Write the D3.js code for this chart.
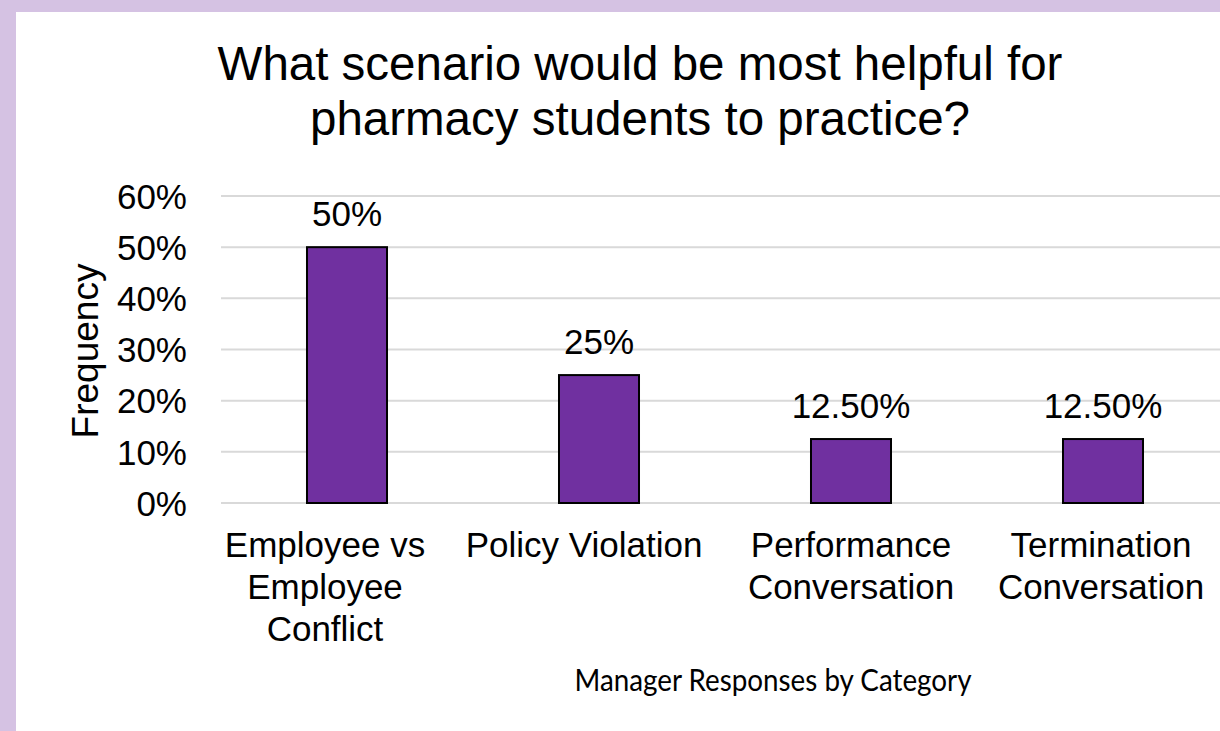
<!DOCTYPE html>
<html>
<head>
<meta charset="utf-8">
<script src="https://cdn.jsdelivr.net/npm/d3@7/dist/d3.min.js"></script>
<style>
  html, body { margin: 0; padding: 0; background: #ffffff; }
  svg { display: block; }
  text { font-family: "Liberation Sans", Arial, Helvetica, sans-serif; fill: #000; }
</style>
</head>
<body>
<svg id="chart" width="1220" height="731"></svg>
<script>
// ---- data ----
const categories = [
  ["Employee vs", "Employee", "Conflict"],
  ["Policy Violation"],
  ["Performance", "Conversation"],
  ["Termination", "Conversation"]
];
const values = [0.50, 0.25, 0.125, 0.125];
const valueLabels = ["50%", "25%", "12.50%", "12.50%"];
const yTicks = [0, 0.1, 0.2, 0.3, 0.4, 0.5, 0.6];
const titleLines = ["What scenario would be most helpful for", "pharmacy students to practice?"];
const yAxisTitle = "Frequency";
const xAxisTitle = "Manager Responses by Category";

// ---- layout ----
const W = 1220, H = 731;
const svg = d3.select("#chart");

svg.append("rect").attr("x", 0).attr("y", 0).attr("width", W).attr("height", H).attr("fill", "#d5c2e3");
svg.append("rect").attr("x", 16).attr("y", 12).attr("width", W - 16).attr("height", H - 12).attr("fill", "#ffffff");

const plot = { left: 221, right: 1229, top: 196, bottom: 503 };

const keys = categories.map((c, i) => i);
const x = d3.scaleBand().domain(keys).range([plot.left, plot.right])
  .paddingInner(0.6825).paddingOuter(0.6825 / 2);
const y = d3.scaleLinear().domain([0, 0.6]).range([plot.bottom, plot.top]);

// gridlines
svg.append("g").selectAll("line").data(yTicks).join("line")
  .attr("x1", plot.left).attr("x2", W)
  .attr("y1", d => y(d)).attr("y2", d => y(d))
  .attr("stroke", "#d9d9d9").attr("stroke-width", 2);

// y axis via d3.axisLeft (labels only)
const yAxis = d3.axisLeft(y).tickValues(yTicks).tickFormat(d3.format(".0%")).tickSize(0).tickPadding(0);
const gy = svg.append("g").attr("transform", `translate(187,0)`).call(yAxis);
gy.select(".domain").remove();
gy.selectAll("text").attr("font-size", 35).attr("font-family", "Liberation Sans, Arial, sans-serif").attr("fill", "#000").attr("dy", "0.35em");

// bars
svg.append("g").selectAll("rect").data(values).join("rect")
  .attr("x", (d, i) => x(i)).attr("width", x.bandwidth())
  .attr("y", d => y(d)).attr("height", d => y(0) - y(d))
  .attr("fill", "#7030a0").attr("stroke", "#000").attr("stroke-width", 2);

// data labels
svg.append("g").selectAll("text").data(values).join("text")
  .attr("x", (d, i) => x(i) + x.bandwidth() / 2)
  .attr("y", d => y(d) - 21)
  .attr("text-anchor", "middle").attr("font-size", 35)
  .text((d, i) => valueLabels[i]);

// category labels (first two are nudged left, as in the source layout)
const labelNudge = [-22, -15, 0, -2];
const cg = svg.append("g");
categories.forEach((lines, i) => {
  const cx = x(i) + x.bandwidth() / 2 + labelNudge[i];
  const t = cg.append("text")
    .attr("text-anchor", "middle").attr("font-size", 35);
  lines.forEach((ln, j) => {
    t.append("tspan").attr("x", cx).attr("y", 557 + j * 42).text(ln);
  });
});

// title
svg.append("g").selectAll("text").data(titleLines).join("text")
  .attr("x", 640).attr("y", (d, i) => 80 + i * 55)
  .attr("text-anchor", "middle").attr("font-size", 47.5)
  .text(d => d);

// y axis title
svg.append("text")
  .attr("transform", "translate(98,351) rotate(-90)")
  .attr("text-anchor", "middle").attr("font-size", 37)
  .text(yAxisTitle);

// x axis title
svg.append("text")
  .attr("x", 773).attr("y", 691)
  .attr("text-anchor", "middle").attr("font-size", 31)
  .attr("textLength", 397).attr("lengthAdjust", "spacingAndGlyphs")
  .style("font-family", "Lato, 'Open Sans', sans-serif")
  .text(xAxisTitle);
</script>
</body>
</html>
